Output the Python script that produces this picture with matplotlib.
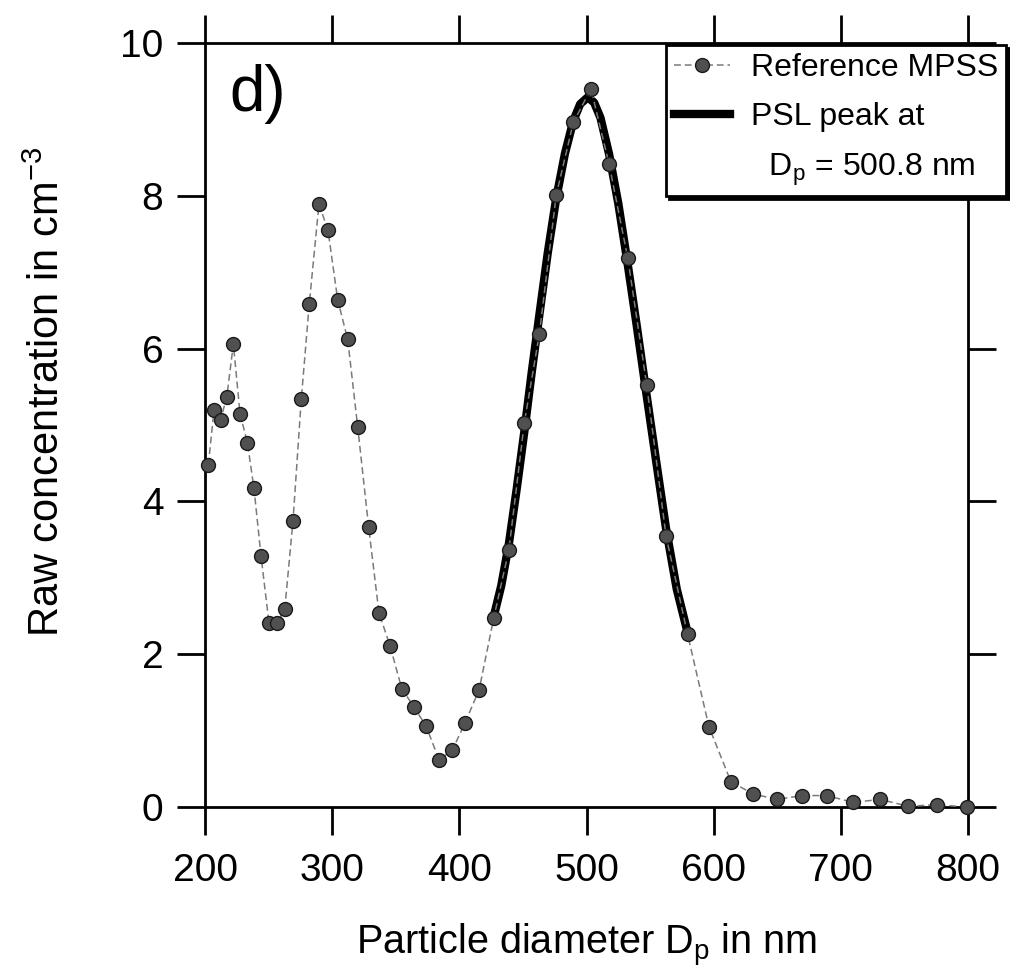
import matplotlib
matplotlib.use("Agg")
import matplotlib.pyplot as plt
from matplotlib.lines import Line2D

plt.rcParams['font.family'] = ['Liberation Sans', 'DejaVu Sans']

# MPSS raw size distribution
diameter = [202.6, 207.1, 212.3, 217.1, 222.3, 227.5, 233.3, 238.5, 244.0, 250.3,
            256.6, 262.7, 269.2, 275.7, 282.0, 289.6, 296.7, 304.3, 312.2, 320.1,
            328.7, 336.8, 345.5, 354.7, 364.3, 373.8, 384.0, 394.4, 404.4, 415.5,
            427.0, 439.0, 451.1, 462.9, 476.2, 489.6, 503.5, 517.7, 532.4, 547.3,
            562.5, 579.5, 596.3, 613.6, 631.2, 650.0, 669.7, 688.9, 709.8, 730.8,
            753.0, 775.4, 799.5]
concentration = [4.48, 5.20, 5.07, 5.37, 6.06, 5.15, 4.77, 4.17, 3.29, 2.41,
                 2.41, 2.59, 3.75, 5.34, 6.59, 7.89, 7.55, 6.64, 6.12, 4.97,
                 3.66, 2.54, 2.11, 1.55, 1.31, 1.06, 0.62, 0.74, 1.10, 1.53,
                 2.47, 3.37, 5.03, 6.19, 8.01, 8.96, 9.40, 8.42, 7.19, 5.53,
                 3.55, 2.26, 1.05, 0.33, 0.17, 0.10, 0.15, 0.15, 0.06, 0.10,
                 0.01, 0.03, 0.00]

# PSL peak fit curve
fit_diameter = [426.7, 433, 439, 445, 451, 457, 463, 469.5, 476, 483, 489.6, 495,
                501, 506, 511, 517.7, 525, 532, 539.5, 547, 555, 562.5, 571, 580]
fit_conc = [2.47, 2.90, 3.45, 4.15, 4.90, 5.70, 6.45, 7.25, 7.95, 8.55, 8.98, 9.20,
            9.29, 9.22, 9.02, 8.55, 7.90, 7.15, 6.30, 5.42, 4.50, 3.65, 2.85, 2.25]

xticks = [200, 300, 400, 500, 600, 700, 800]
yticks = [0, 2, 4, 6, 8, 10]

fig = plt.figure(figsize=(10.1, 9.68), dpi=100)
ax = fig.add_axes([0.203, 0.1663, 0.7554, 0.7893])

dash_style = dict(ls=(0, (4.5, 2.5)), color='#7a7a7a', lw=1.1, marker='o', ms=10,
                  mfc='#505050', mec='#1a1a1a', mew=1.0)

ax.plot(fit_diameter, fit_conc, color='black', lw=6, zorder=2)
ax.plot(diameter, concentration, zorder=3, clip_on=False, **dash_style)

ax.set_xlim(200, 800)
ax.set_ylim(0, 10)
ax.set_xticks(xticks)
ax.set_yticks(yticks)

for s in ax.spines.values():
    s.set_linewidth(2)
ax.tick_params(direction='out', length=20, width=2, top=True, right=True,
               labelsize=28)
ax.tick_params(axis='x', pad=13)
ax.tick_params(axis='y', pad=10)

ax.set_xlabel('Particle diameter D$_\\mathregular{p}$ in nm', fontsize=28.5, labelpad=24)
ax.set_ylabel('Raw concentration in cm$^\\mathregular{-3}$', fontsize=30)
ax.yaxis.set_label_coords(-0.18, 0.543)

ax.text(0.032, 0.972, 'd)', transform=ax.transAxes, fontsize=46, ha='left', va='top')

h_data = Line2D([], [], **dash_style)
h_fit = Line2D([], [], color='black', lw=6)
h_blank = Line2D([], [], ls='none')
leg = ax.legend([h_data, h_fit, h_blank],
                ['Reference MPSS', 'PSL peak at', '  D$_\\mathregular{p}$ = 500.8 nm'],
                loc='upper left', bbox_to_anchor=(666 / 1010, 1 - 45 / 968),
                bbox_transform=fig.transFigure, fontsize=23, frameon=True,
                fancybox=False, edgecolor='black', framealpha=1,
                shadow={'facecolor': 'black', 'edgecolor': 'black', 'alpha': 1,
                        'ox': 2.2, 'oy': -2.2},
                borderaxespad=0, borderpad=0.25, handlelength=1.75,
                handletextpad=0.65, labelspacing=0.6)
leg.get_frame().set_linewidth(2)

fig.savefig('out.png', dpi=100)
